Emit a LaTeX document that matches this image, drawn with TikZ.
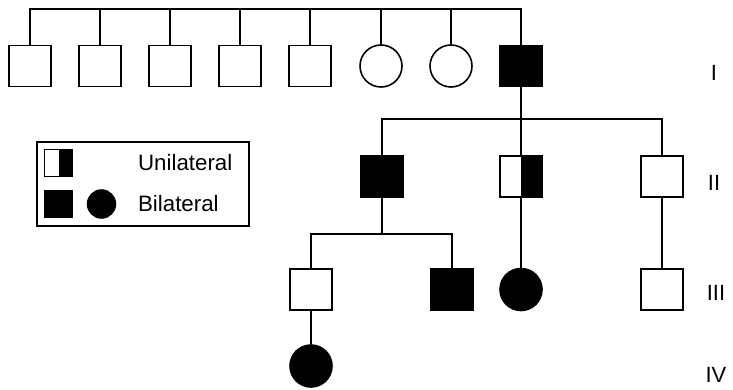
\documentclass[tikz,border=0pt]{standalone}
\usepackage{fontspec}
\setmainfont{Liberation Sans}
\begin{document}
\begin{tikzpicture}[x=1pt,y=-1pt,
  line width=2.2pt,
  male/.style={draw, line width=1.6pt, minimum width=42pt, minimum height=41pt, inner sep=0pt},
  female/.style={draw, circle, line width=1.6pt, minimum size=42pt, inner sep=0pt},
  aff/.style={fill=black},
  halfaff/.style={path picture={\fill[black] (path picture bounding box.north) rectangle (path picture bounding box.south east);}},
  lsym/.style={draw, line width=1.5pt, minimum width=28pt, minimum height=27pt, inner sep=0pt},
  lcirc/.style={draw, circle, line width=1.5pt, minimum size=28pt, inner sep=0pt, fill=black},
  gen/.style={font=\fontsize{22}{24}\selectfont, inner sep=0pt},
  ltext/.style={font=\fontsize{22.3}{24}\selectfont, inner sep=0pt, anchor=west}
]
\useasboundingbox (0,0) rectangle (733,390);
% bars
\coordinate (barI) at (0,9);
\coordinate (barII) at (0,119);
\coordinate (barIII) at (0,234);
% generation I
\node[male] (i1) at (30,66) {};
\node[male] (i2) at (100,66) {};
\node[male] (i3) at (170,66) {};
\node[male] (i4) at (240,66) {};
\node[male] (i5) at (310,66) {};
\node[female] (i6) at (381,66) {};
\node[female] (i7) at (451,66) {};
\node[male,aff] (i8) at (521,66) {};
% generation II
\node[male,aff] (ii1) at (382,176.5) {};
\node[male,halfaff] (ii2) at (521,176.5) {};
\node[male] (ii3) at (662,176.5) {};
% generation III
\node[male] (iii1) at (311,289.5) {};
\node[male,aff] (iii2) at (452,289.5) {};
\node[female,aff] (iii3) at (521,289.5) {};
\node[male] (iii4) at (662,289.5) {};
% generation IV
\node[female,aff] (iv1) at (311,366) {};
% connectors
\draw (i1.north) |- (i8.north |- barI) -- (i8.north);
\foreach \n in {i2,i3,i4,i5,i6,i7} \draw (\n.north) -- (\n.north |- barI);
\draw (i8.south) -- (ii2.north);
\draw (ii1.north) |- (ii3.north |- barII) -- (ii3.north);
\draw (ii1.south) -- (ii1.south |- barIII);
\draw (iii1.north) |- (iii2.north |- barIII) -- (iii2.north);
\draw (ii2.south) -- (iii3.north);
\draw (ii3.south) -- (iii4.north);
\draw (iii1.south) -- (iv1.north);
% generation labels
\node[gen] (gI) at (714,73) {I};
\node[gen] (gII) at (714,183) {II};
\node[gen] (gIII) at (716,293) {III};
\node[gen] (gIV) at (716,375) {IV};
% legend
\node[draw, line width=1.2pt, minimum width=212pt, minimum height=84pt, inner sep=0pt] (legend) at (143,184) {};
\node[lsym,halfaff] (lhalf) at (58.5,163) {};
\node[lsym,aff] (lsq) at (58.5,204) {};
\node[lcirc] (lci) at (101.5,204) {};
\node[ltext] (tuni) at (137,163) {Unilateral};
\node[ltext] (tbi) at (137,204) {Bilateral};
\end{tikzpicture}
\end{document}
